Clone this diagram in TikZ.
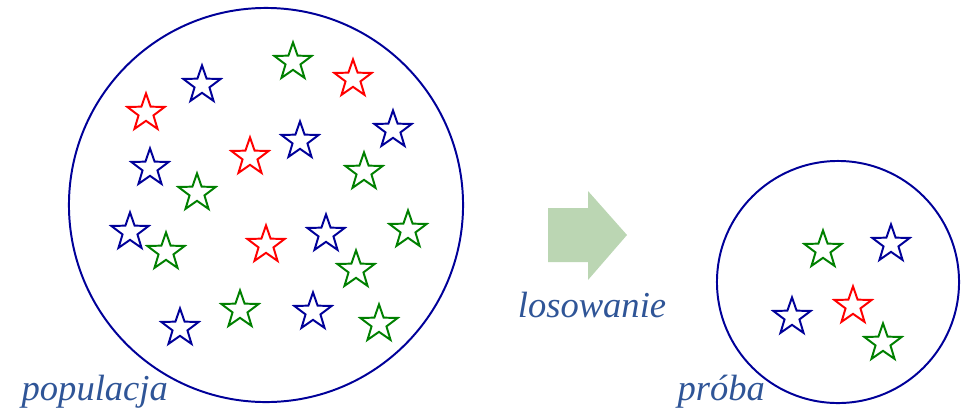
\documentclass[tikz,border=0pt]{standalone}
\usepackage{fontspec}
\setmainfont{Liberation Serif}
\usetikzlibrary{shapes.geometric}
\definecolor{navy}{RGB}{0,0,153}
\definecolor{leafgreen}{RGB}{0,128,0}
\definecolor{capblue}{RGB}{47,85,151}
\definecolor{arrowgreen}{RGB}{187,214,179}

\begin{document}
\begin{tikzpicture}
[x=0.025cm, y=-0.025cm, line width=1.4pt,
member/.style={star, star points=5, star point ratio=2.5, draw, inner sep=0pt, minimum size=0.98cm},
set/.style={circle, draw=navy, inner sep=0pt},
caption/.style={text=capblue, font=\fontsize{26}{30}\selectfont\itshape, anchor=base}]

\useasboundingbox (0,0) rectangle (961,410);

\node[set, minimum size=9.85cm] (pop) at (266,205) {};
\node[set, minimum size=6.05cm] (sample) at (838,282) {};

\foreach \n/\x/\y/\c in {1/293/62/leafgreen, 2/353/79/red, 3/202/85/navy,
    4/146/113/red, 5/393/130/navy, 6/300/141/navy, 7/250/157/red,
    8/150/168/navy, 9/364/172/leafgreen, 10/197/193/leafgreen,
    11/130/232/navy, 12/166/252/leafgreen, 13/266/245/red,
    14/326/234/navy, 15/408/230/leafgreen, 16/356/270/leafgreen,
    17/240/310/leafgreen, 18/313/312/navy, 19/180/328/navy,
    20/379/324/leafgreen} {
    \node[member, draw=\c] (pop\n) at (\x,\y) {};
}

\foreach \n/\x/\y/\c in {1/823/250/leafgreen, 2/891/244/navy,
    3/853/306/red, 4/792/317/navy, 5/883/343/leafgreen} {
    \node[member, draw=\c] (sample\n) at (\x,\y) {};
}

\fill[arrowgreen] (548,208) -- (588,208) -- (588,191) -- (627,235)
    -- (588,280) -- (588,262) -- (548,262) -- cycle;

\node[caption, anchor=base west] (poplabel) at (16,400) {populacja};
\node[caption] (drawlabel) at (592,317) {losowanie};
\node[caption, anchor=base west] (samplelabel) at (672,400) {próba};

\end{tikzpicture}
\end{document}
